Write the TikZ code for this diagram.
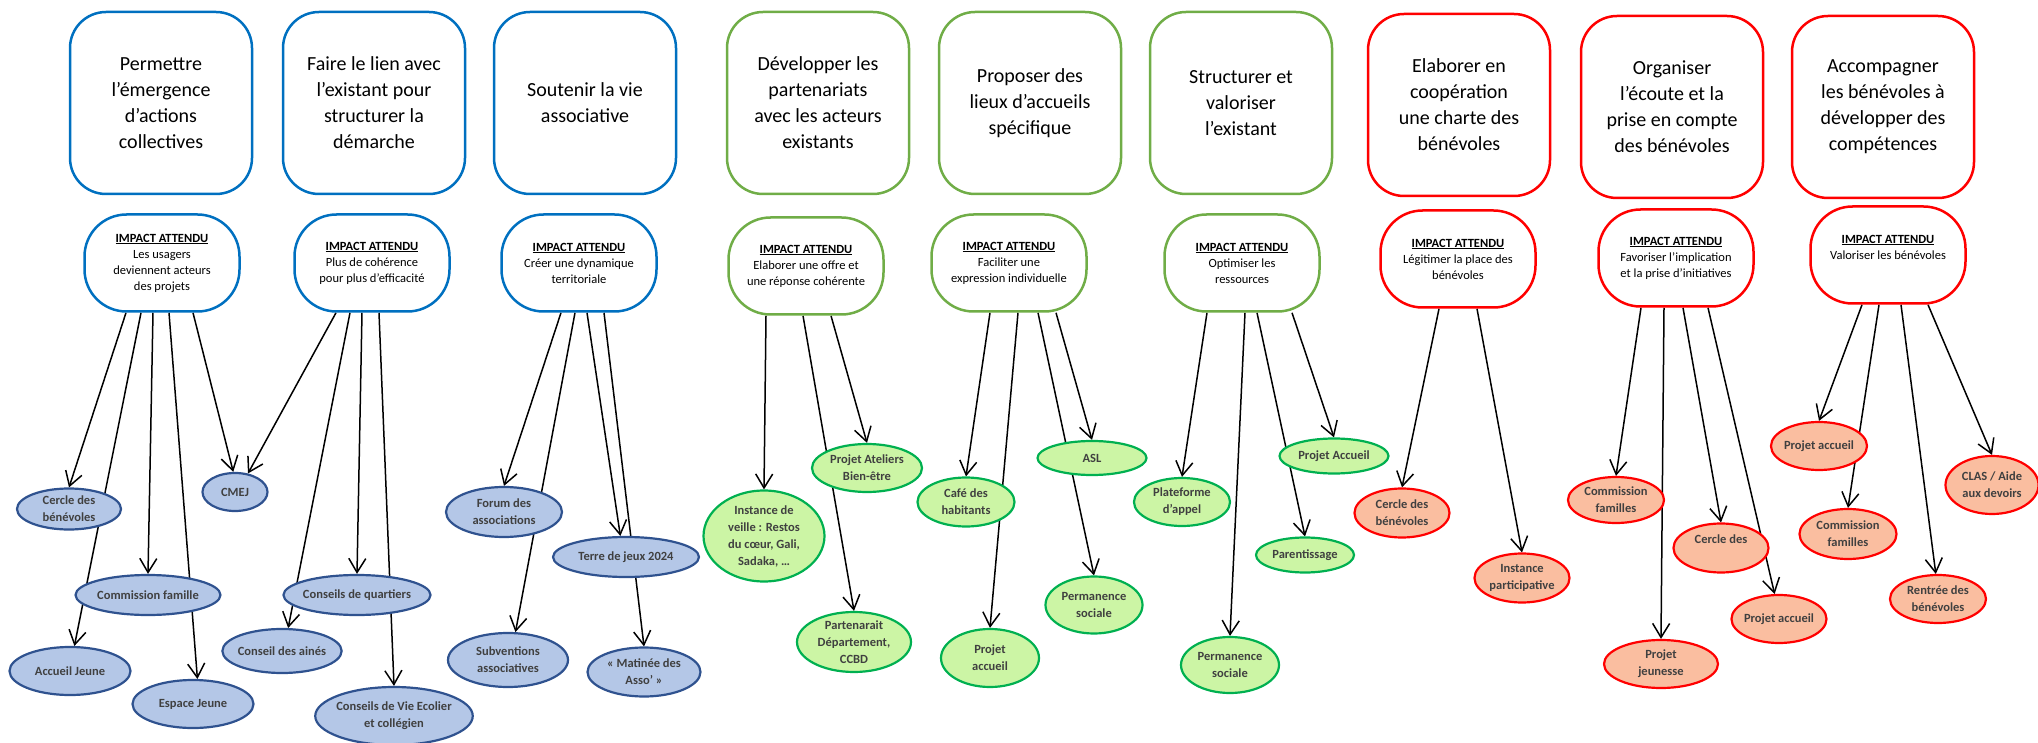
\documentclass[tikz,border=0pt]{standalone}
\usepackage{fontspec}
\setmainfont{Carlito}
\usepackage{tikz}
\usetikzlibrary{shapes.geometric,arrows.meta}

\pgfdeclarelayer{edges}
\pgfsetlayers{edges,main}

\definecolor{goalblue}{RGB}{0,112,192}
\definecolor{goalgreen}{RGB}{112,173,71}
\definecolor{goalred}{RGB}{255,0,0}
\definecolor{fillblue}{RGB}{180,199,231}
\definecolor{drawblue}{RGB}{47,82,143}
\definecolor{fillgreen}{RGB}{204,245,165}
\definecolor{drawgreen}{RGB}{0,176,80}
\definecolor{fillred}{RGB}{250,190,160}
\definecolor{actiontext}{RGB}{64,64,64}

\newcommand{\attendu}{\underline{\textbf{IMPACT ATTENDU}}}

\begin{document}
\begin{tikzpicture}[x=1pt,y=-1pt,node distance=160pt,>={Straight Barb[length=14pt,width=17pt]}]
  \tikzstyle{goal}=[rectangle,rounded corners=36pt,line width=2.5pt,minimum width=182pt,minimum height=182pt,align=center,font=\fontsize{20}{26}\selectfont]
  \tikzstyle{impact}=[rectangle,rounded corners=42pt,line width=2.5pt,minimum width=155pt,minimum height=97pt,align=center,font=\fontsize{12.5}{16}\selectfont]
  \tikzstyle{action}=[ellipse,line width=2.2pt,inner sep=-2pt,align=center,text=actiontext,font=\fontsize{12.5}{17}\selectfont\bfseries]
  \tikzstyle{blueact}=[action,draw=drawblue,fill=fillblue]
  \tikzstyle{greenact}=[action,draw=drawgreen,fill=fillgreen]
  \tikzstyle{redact}=[action,draw=goalred,fill=fillred]
  \tikzstyle{link}=[->,line width=1.5pt]

  \useasboundingbox (0,0) rectangle (2038,743);

  % objectifs
  \node[goal,draw=goalblue] (g1) at (161,103) {Permettre\\l’émergence\\d’actions\\collectives};
  \node[goal,draw=goalblue] (g2) at (374,103) {Faire le lien avec\\l’existant pour\\structurer la\\démarche};
  \node[goal,draw=goalblue] (g3) at (585,103) {Soutenir la vie\\associative};
  \node[goal,draw=goalgreen] (g4) at (818,103) {Développer les\\partenariats\\avec les acteurs\\existants};
  \node[goal,draw=goalgreen] (g5) at (1030,103) {Proposer des\\lieux d’accueils\\spécifique};
  \node[goal,draw=goalgreen] (g6) at (1241,103) {Structurer et\\valoriser\\l’existant};
  \node[goal,draw=goalred] (g7) at (1459,105) {Elaborer en\\coopération\\une charte des\\bénévoles};
  \node[goal,draw=goalred] (g8) at (1672,107) {Organiser\\l’écoute et la\\prise en compte\\des bénévoles};
  \node[goal,draw=goalred] (g9) at (1883,107) {Accompagner\\les bénévoles à\\développer des\\compétences};

  % impacts
  \node[impact,draw=goalblue,below of=g1,xshift=1pt] (i1) {\attendu\\Les usagers\\deviennent acteurs\\des projets};
  \node[impact,draw=goalblue,below of=g2,xshift=-2pt] (i2) {\attendu\\Plus de cohérence\\pour plus d’efficacité};
  \node[impact,draw=goalblue,below of=g3,xshift=-6pt] (i3) {\attendu\\Créer une dynamique\\territoriale};
  \node[impact,draw=goalgreen,below of=g4,xshift=-12pt,yshift=-3pt] (i4) {\attendu\\Elaborer une offre et\\une réponse cohérente};
  \node[impact,draw=goalgreen,below of=g5,xshift=-21pt] (i5) {\attendu\\Faciliter une\\expression individuelle};
  \node[impact,draw=goalgreen,below of=g6,xshift=1pt] (i6) {\attendu\\Optimiser les\\ressources};
  \node[impact,draw=goalred,below of=g7,xshift=-1pt,yshift=6pt] (i7) {\attendu\\Légitimer la place des\\bénévoles};
  \node[impact,draw=goalred,below of=g8,xshift=4pt,yshift=9pt] (i8) {\attendu\\Favoriser l’implication\\et la prise d’initiatives};
  \node[impact,draw=goalred,below of=g9,xshift=5pt,yshift=12pt] (i9) {\attendu\\Valoriser les bénévoles\\\mbox{}};

  % actions
  \node[blueact,minimum width=104pt,minimum height=41pt] (cercleA) at (69,509) {Cercle des\\bénévoles};
  \node[blueact,minimum width=65pt,minimum height=38pt] (cmej) at (235,492) {CMEJ};
  \node[blueact,minimum width=145pt,minimum height=40pt] (commFam) at (148,595) {Commission famille};
  \node[blueact,minimum width=121pt,minimum height=48pt] (accJeune) at (70,671) {Accueil Jeune};
  \node[blueact,minimum width=121pt,minimum height=48pt] (espJeune) at (193,704) {Espace Jeune};
  \node[blueact,minimum width=145pt,minimum height=40pt] (quartiers) at (357,595) {Conseils de quartiers};
  \node[blueact,minimum width=109pt,minimum height=44pt] (aines) at (282,651) {Conseil des ainés};
  \node[blueact,minimum width=150pt,minimum height=58pt] (cve) at (394,716) {Conseils de Vie Ecolier\\et collégien};
  \node[blueact,minimum width=116pt,minimum height=50pt] (forum) at (504,512) {Forum des\\associations};
  \node[blueact,minimum width=146pt,minimum height=40pt] (terreJeux) at (626,557) {Terre de jeux 2024};
  \node[blueact,minimum width=120pt,minimum height=54pt] (subv) at (508,660) {Subventions\\associatives};
  \node[blueact,minimum width=113pt,minimum height=49pt] (matinee) at (644,672) {«~Matinée des\\Asso’~»};

  \node[greenact,minimum width=121pt,minimum height=91pt] (veille) at (764,536) {Instance de\\veille : Restos\\du cœur, Gali,\\Sadaka, …};
  \node[greenact,minimum width=110pt,minimum height=48pt] (ateliers) at (867,468) {Projet Ateliers\\Bien-être};
  \node[greenact,minimum width=114pt,minimum height=60pt] (partenariat) at (854,642) {Partenarait\\Département,\\CCBD};
  \node[greenact,minimum width=97pt,minimum height=49pt] (cafe) at (966,502) {Café des\\habitants};
  \node[greenact,minimum width=98pt,minimum height=58pt] (projAccA) at (990,658) {Projet\\accueil};
  \node[greenact,minimum width=109pt,minimum height=34pt] (asl) at (1092,458) {ASL};
  \node[greenact,minimum width=97pt,minimum height=57pt] (permA) at (1094,605) {Permanence\\sociale};
  \node[greenact,minimum width=96pt,minimum height=48pt] (plateforme) at (1182,502) {Plateforme\\d’appel};
  \node[greenact,minimum width=98pt,minimum height=56pt] (permB) at (1230,665) {Permanence\\sociale};
  \node[greenact,minimum width=109pt,minimum height=35pt] (projAccB) at (1334,456) {Projet Accueil};
  \node[greenact,minimum width=98pt,minimum height=35pt] (parentissage) at (1305,555) {Parentissage};

  \node[redact,minimum width=95pt,minimum height=49pt] (cercleB) at (1402,513) {Cercle des\\bénévoles};
  \node[redact,minimum width=95pt,minimum height=49pt] (instPart) at (1522,578) {Instance\\participative};
  \node[redact,minimum width=96pt,minimum height=46pt] (commFamA) at (1616,500) {Commission\\familles};
  \node[redact,minimum width=114pt,minimum height=48pt] (projJeun) at (1661,664) {Projet\\jeunesse};
  \node[redact,minimum width=95pt,minimum height=49pt] (cercleC) at (1721,548) {Cercle des\\\mbox{}};
  \node[redact,minimum width=95pt,minimum height=48pt] (projAccC) at (1779,619) {Projet accueil};
  \node[redact,minimum width=96pt,minimum height=48pt] (projAccD) at (1819,446) {Projet accueil};
  \node[redact,minimum width=97pt,minimum height=50pt] (commFamB) at (1848,534) {Commission\\familles};
  \node[redact,minimum width=96pt,minimum height=48pt] (rentree) at (1938,599) {Rentrée des\\bénévoles};
  \node[redact,minimum width=93pt,minimum height=58pt] (clas) at (1992,485) {CLAS / Aide\\aux devoirs};

  % edges
  \begin{pgfonlayer}{edges}
  \draw[link] ([xshift=-36pt]i1.south) -- (cercleA.north);
  \draw[link] ([xshift=-21pt]i1.south) -- (accJeune.80);
  \draw[link] ([xshift=-9pt]i1.south) -- (commFam.north);
  \draw[link] ([xshift=7pt]i1.south) -- (espJeune.80);
  \draw[link] ([xshift=31pt]i1.south) -- (cmej.95);

  \draw[link] ([xshift=-36pt]i2.south) -- (cmej.55);
  \draw[link] ([xshift=-22pt]i2.south) -- (aines.75);
  \draw[link] ([xshift=-10pt]i2.south) -- (quartiers.north);
  \draw[link] ([xshift=7pt]i2.south) -- (cve.north);

  \draw[link] ([xshift=-18pt]i3.south) -- (forum.north);
  \draw[link] ([xshift=-4pt]i3.south) -- (subv.75);
  \draw[link] ([xshift=8pt]i3.south) -- (terreJeux.105);
  \draw[link] ([xshift=25pt]i3.south) -- (matinee.north);

  \draw[link] ([xshift=-40pt]i4.south) -- (veille.north);
  \draw[link] ([xshift=-3pt]i4.south) -- (partenariat.north);
  \draw[link] ([xshift=25pt]i4.south) -- (ateliers.north);

  \draw[link] ([xshift=-19pt]i5.south) -- (cafe.north);
  \draw[link] ([xshift=9pt]i5.south) -- (projAccA.north);
  \draw[link] ([xshift=29pt]i5.south) -- (permA.north);
  \draw[link] ([xshift=47pt]i5.south) -- (asl.north);

  \draw[link] ([xshift=-35pt]i6.south) -- (plateforme.north);
  \draw[link] ([xshift=3pt]i6.south) -- (permB.north);
  \draw[link] ([xshift=15pt]i6.south) -- (parentissage.north);
  \draw[link] ([xshift=50pt]i6.south) -- (projAccB.north);

  \draw[link] ([xshift=-19pt]i7.south) -- (cercleB.north);
  \draw[link] ([xshift=19pt]i7.south) -- (instPart.north);

  \draw[link] ([xshift=-35pt]i8.south) -- (commFamA.north);
  \draw[link] ([xshift=-12pt]i8.south) -- (projJeun.north);
  \draw[link] ([xshift=7pt]i8.south) -- (cercleC.north);
  \draw[link] ([xshift=32pt]i8.south) -- (projAccC.100);

  \draw[link] ([xshift=-26pt]i9.south) -- (projAccD.north);
  \draw[link] ([xshift=-9pt]i9.south) -- (commFamB.north);
  \draw[link] ([xshift=13pt]i9.south) -- (rentree.95);
  \draw[link] ([xshift=40pt]i9.south) -- (clas.north);
  \end{pgfonlayer}

\end{tikzpicture}
\end{document}
